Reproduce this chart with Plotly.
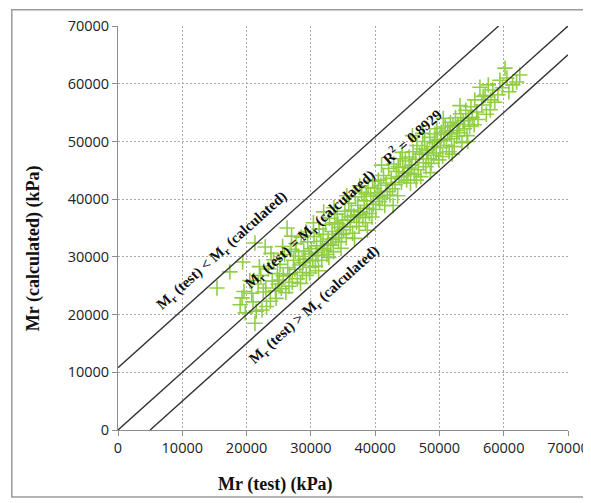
import plotly.graph_objects as go

# Measured data: Mr (test) vs Mr (calculated), kPa
mr_test = [
    15400, 17400, 19400, 19000, 19300, 19800, 19600,
    20800, 21000, 21300, 21300, 22400, 22900, 21800, 22200, 22600, 23000, 23400, 23700, 24000, 24200, 24500, 24800,
    21500, 23100, 24600, 22000, 20500, 23800, 24900,
    25200, 25400, 25700, 25900, 26100, 26300, 26400, 26700, 26900, 27100, 27300, 27500, 27700, 27900, 28100, 28300,
    28500, 28700, 28900, 29100, 29300, 29500, 29700, 29900, 25600, 26600, 27600, 28400, 29200, 29800, 25100, 27000, 28800,
    30100, 30300, 30500, 30700, 30900, 31100, 31300, 31500, 31700, 31900, 32100, 32300, 32500, 32700, 32900, 33100,
    33300, 33500, 33700, 33900, 34100, 34300, 34500, 34700, 34900, 30400, 31200, 32000, 32800, 33600, 34400, 30800,
    31800, 32600, 33400, 34200, 34800,
    35100, 35300, 35500, 35700, 35900, 36100, 36300, 36500, 36700, 36900, 37100, 37300, 37500, 37700, 37900, 38100,
    38300, 38500, 38700, 38900, 39100, 39300, 39500, 39700, 39900, 35600, 36800, 37600, 38800, 39600, 36200, 37400, 38600,
    40100, 40300, 40500, 40700, 40900, 41100, 41300, 41500, 41700, 41900, 42100, 42300, 42500, 42700, 42900, 43100,
    43300, 43500, 43700, 43900, 44100, 44300, 44500, 44700, 44900, 41000, 42800, 44200, 40600, 43600,
    45100, 45300, 45500, 45700, 45900, 46100, 46300, 46500, 46700, 46900, 47100, 47300, 47500, 47700, 47900, 48100,
    48300, 48500, 48700, 48900, 49100, 49300, 49500, 49700, 49900, 45800, 46400, 47400, 48600, 49600, 45400, 48000, 49200,
    50100, 50300, 50500, 50700, 50900, 51100, 51300, 51500, 51700, 51900, 52100, 52300, 52500, 52700, 52900, 53100,
    53300, 53500, 53700, 53900, 54100, 54300, 54500, 54700, 54900, 50600, 52000, 53200, 54400, 51600, 52800, 50200,
    55100, 55500, 55800, 56300, 57100, 57900, 58300, 59100, 60200, 60500, 61400, 62000, 62500, 55400, 56000, 56600,
    57300, 57600, 58600, 59400, 56800, 58000, 59800, 60800,
]
mr_calc = [
    24600, 27400, 29100, 21700, 22900, 20300, 24000,
    23700, 22200, 18500, 32400, 20800, 31700, 25300, 26800, 23900, 24600, 27900, 22300, 25800, 29500, 24100, 27100,
    20600, 21400, 22800, 28300, 25900, 30600, 25300,
    28700, 24500, 26700, 30400, 23800, 35000, 28100, 27000, 31300, 25600, 29400, 27800, 32300, 26200, 30100, 28600,
    33400, 27300, 31000, 29600, 26800, 32600, 30500, 28200, 31800, 24900, 30900, 25400, 34300, 27200, 26000, 33600, 29000,
    31400, 29300, 33500, 28400, 31900, 30200, 34800, 32700, 29400, 33900, 31200, 35600, 30400, 33100, 36700, 32000,
    34400, 30900, 35900, 33300, 37400, 32600, 35100, 31500, 36300, 35900, 27600, 37800, 29900, 38500, 34000, 30800,
    31500, 32200, 33000, 35700, 33900,
    34700, 37900, 33300, 36400, 39300, 35200, 38100, 34100, 37100, 40400, 36000, 38900, 35300, 37800, 41200, 36800,
    39700, 35900, 38400, 42000, 37500, 40500, 36900, 39100, 41900, 40600, 33200, 42300, 34600, 43100, 36900, 37300, 40900,
    38200, 41100, 43300, 39600, 42400, 40200, 44100, 38900, 42800, 41300, 45300, 40700, 43600, 41800, 46100, 42500,
    44800, 40600, 43900, 47000, 42900, 45500, 44000, 46600, 43300, 45900, 38900, 48100, 40500, 45600,
    44500, 47300, 42800, 45900, 48200, 44300, 46900, 49300, 45100, 47800, 43900, 48700, 46300, 50000, 45600, 48400,
    47000, 50700, 46200, 49100, 47600, 51300, 48000, 50300, 46800, 51000, 43300, 51400, 44600, 52200, 45400, 48000, 49800,
    48900, 51600, 47400, 50300, 52500, 49300, 51900, 48200, 53300, 50500, 52700, 49100, 54100, 50900, 53000, 51500,
    54800, 49800, 53600, 52200, 55400, 51000, 54000, 52600, 56000, 54000, 47800, 56200, 50000, 51300, 51900, 50100,
    54200, 57200, 55100, 59400, 58000, 55500, 58900, 58100, 62700, 61000, 59800, 60300, 61500, 52900, 53800, 56300,
    54700, 59800, 56800, 60600, 57800, 57200, 59300, 58600,
]

# Reference lines
line_eq_x = [0, 70000]
line_eq_y = [0, 70000]
line_upper_x = [0, 59200]
line_upper_y = [10800, 70000]
line_lower_x = [5000, 70000]
line_lower_y = [0, 65000]

tick_vals = [0, 10000, 20000, 30000, 40000, 50000, 60000, 70000]
tick_text = ["0", "10000", "20000", "30000", "40000", "50000", "60000", "70000"]

fig = go.Figure()
fig.add_trace(go.Scatter(
    x=mr_test, y=mr_calc, mode="markers",
    marker=dict(symbol="cross-thin", size=11, line=dict(width=1.6, color="#90CF45")),
    showlegend=False, hoverinfo="skip"))
for lx, ly in [(line_eq_x, line_eq_y), (line_upper_x, line_upper_y), (line_lower_x, line_lower_y)]:
    fig.add_trace(go.Scatter(x=lx, y=ly, mode="lines",
                             line=dict(color="#333333", width=1.4),
                             showlegend=False, hoverinfo="skip"))

serif = "Liberation Serif, Times New Roman, serif"
ann_font = dict(family=serif, size=15, color="#111111")
ang = -41.9
annotations = [
    dict(x=16200, y=31000, text="<b>M<sub>r</sub> (test) &lt; M<sub>r</sub> (calculated)</b>"),
    dict(x=29900, y=34700, text="<b>M<sub>r</sub> (test) = M<sub>r</sub> (calculated)</b>"),
    dict(x=45700, y=50900, text="<b>R<sup>2</sup> = 0.8929</b>"),
    dict(x=30600, y=21700, text="<b>M<sub>r</sub> (test) &gt; M<sub>r</sub> (calculated)</b>"),
]
for a in annotations:
    a.update(xref="x", yref="y", showarrow=False, textangle=ang, font=ann_font,
             xanchor="center", yanchor="middle")

annotations.append(dict(x=0.351, y=-0.136, xref="paper", yref="paper", showarrow=False,
                        text="<b>Mr (test) (kPa)</b>", font=dict(family=serif, size=18, color="#111111"),
                        xanchor="center", yanchor="middle"))
annotations.append(dict(x=-0.189, y=0.45, xref="paper", yref="paper", showarrow=False,
                        text="<b>Mr (calculated) (kPa)</b>", textangle=-90,
                        font=dict(family=serif, size=18, color="#111111"),
                        xanchor="center", yanchor="middle"))

axis_common = dict(
    range=[0, 70000], tickvals=tick_vals, ticktext=tick_text,
    showgrid=True, gridcolor="#a8a8a8", griddash="2px,2px", gridwidth=1,
    zeroline=False, showline=True, linecolor="#8c8c8c", linewidth=1,
    ticks="outside", ticklen=5, tickcolor="#8c8c8c",
    tickfont=dict(family="Open Sans, sans-serif", size=14.5, color="#222222"),
    fixedrange=True, automargin=False,
)

# The page body has an 8px margin, so the figure is sized and offset to fit the window
fig.update_layout(
    width=583, height=495,
    margin=dict(l=110, r=23, t=18, b=73),
    paper_bgcolor="white", plot_bgcolor="white",
    xaxis=dict(**axis_common),
    yaxis=dict(**axis_common),
    annotations=annotations,
    shapes=[dict(type="rect", xref="paper", yref="paper",
                 x0=-0.236, x1=1.044, y0=-0.166, y1=1.04,
                 line=dict(color="#9a9a9a", width=1.5), fillcolor="rgba(0,0,0,0)", layer="below")],
)

fig.write_html("out.html")
